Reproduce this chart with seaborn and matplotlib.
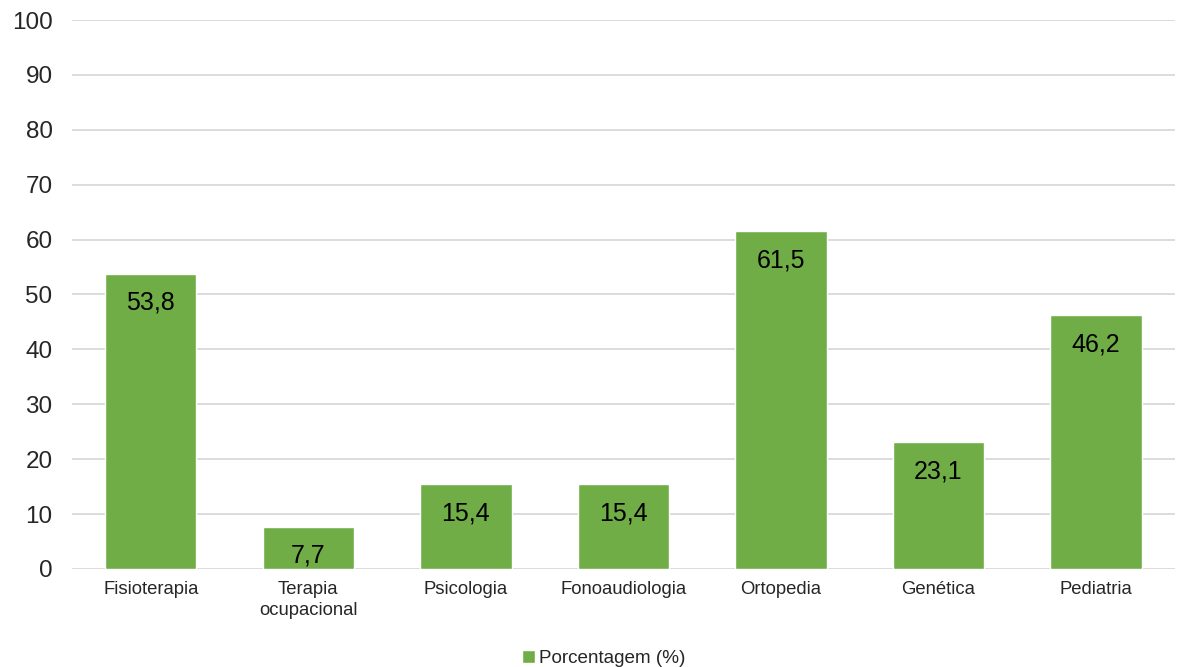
import matplotlib
matplotlib.use("Agg")
import matplotlib.pyplot as plt
import seaborn as sns

# dados do gráfico
categorias = ['Fisioterapia', 'Terapia\nocupacional', 'Psicologia', 'Fonoaudiologia',
              'Ortopedia', 'Genética', 'Pediatria']
porcentagem = [53.8, 7.7, 15.4, 15.4, 61.5, 23.1, 46.2]
rotulos = ['53,8', '7,7', '15,4', '15,4', '61,5', '23,1', '46,2']
yticks = list(range(0, 101, 10))

sns.set_style('white')
plt.rcParams['font.family'] = ['Liberation Sans', 'DejaVu Sans']

fig = plt.figure(figsize=(11.77, 6.67), dpi=100)
ax = fig.add_axes([0.0612, 0.147, 0.937, 0.823])

verde = '#70AD47'
sns.barplot(x=categorias, y=porcentagem, color=verde, width=0.58,
            saturation=1, label='Porcentagem (%)', ax=ax, zorder=3)

#rótulos dentro das barras
for i, (v, r) in enumerate(zip(porcentagem, rotulos)):
    ax.annotate(r, (i, v), xytext=(0, -21), textcoords='offset points',
                ha='center', va='center', fontsize=18, color='black', zorder=4)

ax.set_ylim(0, 100)
ax.set_yticks(yticks)
ax.set_xlim(-0.5, len(categorias) - 0.5)
ax.yaxis.grid(True, color='#D9D9D9', linewidth=1.3, zorder=0)
ax.set_axisbelow(True)
for s in ax.spines.values():
    s.set_visible(False)
ax.tick_params(axis='y', length=0, pad=14, labelsize=17.5)
ax.tick_params(axis='x', length=0, pad=9, labelsize=13.3)
for t in ax.get_xticklabels():
    t.set_linespacing(1.25)
ax.set_xlabel('')
ax.set_ylabel('')

leg = ax.legend(loc='center', bbox_to_anchor=(0.482, -0.163), frameon=False,
                fontsize=13.6, handlelength=0.7, handleheight=0.7,
                handletextpad=0.2)

fig.savefig('out.png', dpi=100)
